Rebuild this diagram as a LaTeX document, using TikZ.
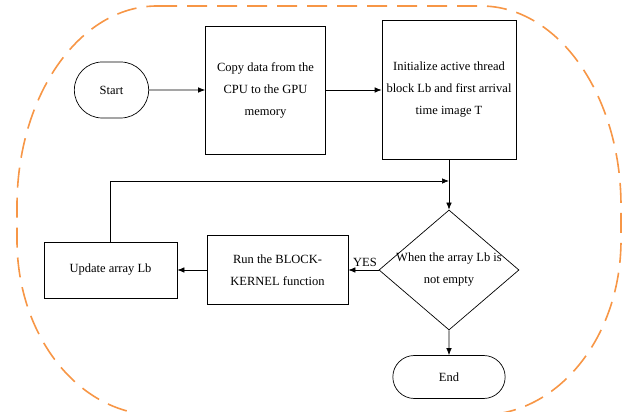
\documentclass[tikz,border=0pt]{standalone}
\usepackage{fontspec}
\setmainfont{Liberation Serif}
\usepackage{tikz}
\usetikzlibrary{shapes,arrows,arrows.meta}
\definecolor{frameorange}{RGB}{247,150,70}
\tikzstyle{block} = [rectangle, draw, line width=0.7pt, align=center, inner sep=2pt]
\tikzstyle{terminal} = [rounded rectangle, draw, line width=0.7pt, align=center]
\tikzstyle{decision} = [diamond, draw, line width=0.7pt, align=center, aspect=1.1667,
    inner sep=-4pt, minimum width=140pt, minimum height=120pt]
\tikzstyle{line} = [draw, line width=0.7pt, color=black, -{Latex[length=7pt,width=5.5pt]}]
\tikzstyle{frame} = [draw=frameorange, line width=1.6pt, dash pattern=on 20pt off 10pt]

\begin{document}
\begin{tikzpicture}[node distance=2cm, auto, font=\fontsize{12.5}{22}\selectfont]
    \useasboundingbox (0,0) rectangle (622pt,412pt);
    % Orange dashed frame
    \path [frame] (157pt,406pt) -- (481pt,406pt)
      arc[start angle=90, end angle=0, x radius=140pt, y radius=200pt] -- (621pt,172pt)
      arc[start angle=0, end angle=-90, x radius=140pt, y radius=175pt] -- (157pt,-3pt)
      arc[start angle=270, end angle=180, x radius=140pt, y radius=175pt] -- (17pt,206pt)
      arc[start angle=180, end angle=90, x radius=140pt, y radius=200pt] -- cycle;
    % Place nodes
    \node [terminal, minimum width=81pt, minimum height=56pt] (start) at (111.5pt,322pt) {Start};
    \node [block, right of=start, node distance=154pt, minimum width=120pt, minimum height=128pt] (copyData)
      {Copy data from the\\CPU to the GPU\\memory};
    \node [block, right of=copyData, node distance=183.5pt, minimum width=134pt, minimum height=139pt] (initLb)
      {Initialize active thread\\block Lb and first arrival\\time image T};
    \node [decision, below of=initLb, node distance=180pt] (decide) {When the array Lb is\\not empty};
    \node [block, left of=decide, node distance=171.5pt, minimum width=141pt, minimum height=69pt] (runKernel)
      {Run the BLOCK-\\KERNEL function};
    \node [block, left of=runKernel, node distance=167pt, minimum width=133pt, minimum height=56pt] (updateLb)
      {Update array Lb};
    \node [terminal, below of=decide, node distance=107pt, minimum width=119pt, minimum height=43pt] (end) {End};
    \coordinate [below of=initLb, node distance=91pt] (join);

    % Draw edges
    \path [line] (start) -- (copyData);
    \path [line] (copyData) -- (initLb);
    \path [line] (initLb) -- (decide);
    \path [line] (decide) -- node [above, pos=0.45] {YES} (runKernel);
    \path [line] (runKernel) -- (updateLb);
    \path [line] (updateLb.north) |- (join);
    \path [line] (decide) -- (end);
\end{tikzpicture}
\end{document}
